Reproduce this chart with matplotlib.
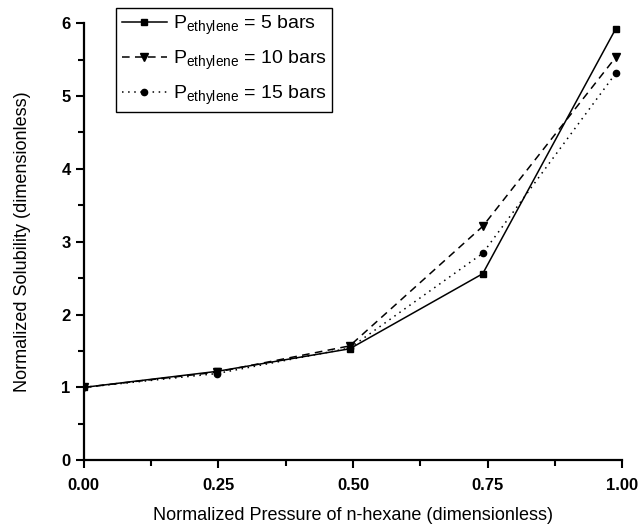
import matplotlib.pyplot as plt
from matplotlib.ticker import MultipleLocator, FormatStrFormatter

plt.rcParams['font.family'] = ['Liberation Sans', 'DejaVu Sans']
plt.rcParams['mathtext.fontset'] = 'custom'
plt.rcParams['mathtext.rm'] = 'Liberation Sans'

p_hexane = [0.0, 0.247, 0.494, 0.741, 0.988]
sol_5bar = [1.0, 1.22, 1.53, 2.56, 5.92]
sol_10bar = [1.0, 1.21, 1.57, 3.21, 5.53]
sol_15bar = [1.0, 1.19, 1.54, 2.84, 5.31]
labels = [r'$\mathregular{P_{ethylene}}$ = 5 bars',
          r'$\mathregular{P_{ethylene}}$ = 10 bars',
          r'$\mathregular{P_{ethylene}}$ = 15 bars']

fig = plt.figure(figsize=(6.4, 5.26), dpi=100)
ax = fig.add_axes([0.131, 0.125, 0.841, 0.831])

ax.plot(p_hexane, sol_5bar, color='black', linestyle='-', linewidth=1.1,
        marker='s', markersize=4.5, label=labels[0])
ax.plot(p_hexane, sol_10bar, color='black', linestyle=(0, (5, 3.5)), linewidth=1.1,
        marker='v', markersize=5.5, label=labels[1])
ax.plot(p_hexane, sol_15bar, color='black', linestyle=(0, (1, 3)), linewidth=1.1,
        marker='o', markersize=4.5, label=labels[2])

ax.set_xlim(0, 1.0)
ax.set_ylim(0, 6)
ax.xaxis.set_major_locator(MultipleLocator(0.25))
ax.xaxis.set_minor_locator(MultipleLocator(0.125))
ax.yaxis.set_major_locator(MultipleLocator(1))
ax.yaxis.set_minor_locator(MultipleLocator(0.5))
ax.xaxis.set_major_formatter(FormatStrFormatter('%.2f'))

for side in ['top', 'right']:
    ax.spines[side].set_visible(False)
for side in ['left', 'bottom']:
    ax.spines[side].set_linewidth(1.6)
ax.tick_params(which='major', direction='out', length=6, width=1.5,
               labelsize=12)
ax.tick_params(axis='x', which='major', pad=7)
ax.tick_params(which='minor', direction='out', length=4, width=1.5)
for lbl in ax.get_xticklabels() + ax.get_yticklabels():
    lbl.set_fontweight('bold')

ax.set_xlabel('Normalized Pressure of n-hexane (dimensionless)', fontsize=13, labelpad=10)
ax.set_ylabel('Normalized Solubility (dimensionless)', fontsize=13, labelpad=22)

leg = ax.legend(loc='upper left', bbox_to_anchor=(0.06, 1.035), fontsize=14,
                frameon=True, fancybox=False, edgecolor='black', framealpha=1,
                handlelength=2.3, handletextpad=0.3, borderpad=0.3,
                labelspacing=0.6, borderaxespad=0)
leg.get_frame().set_linewidth(1.0)

fig.savefig('out.png', dpi=100)
